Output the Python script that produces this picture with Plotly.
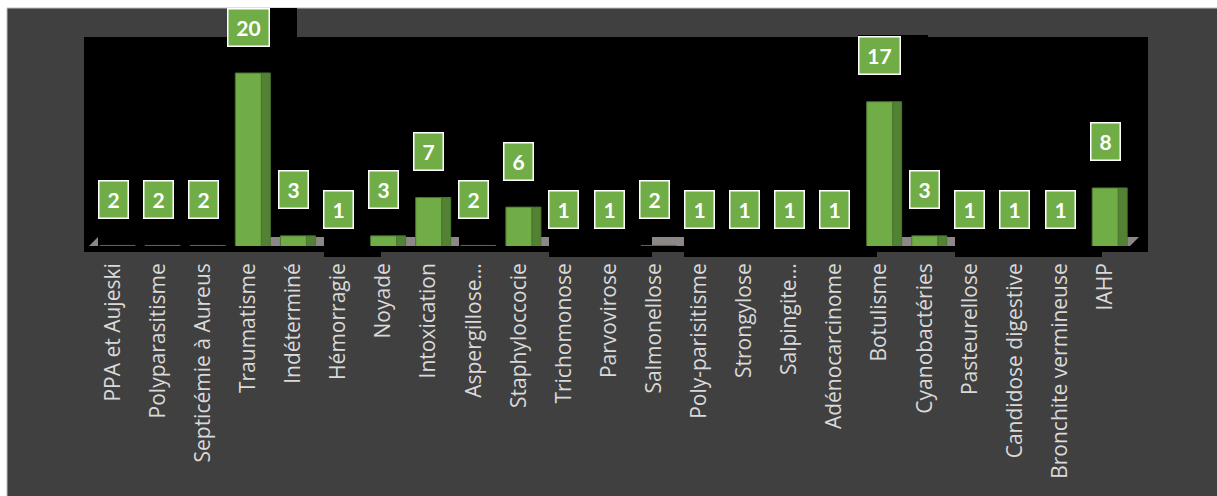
import plotly.graph_objects as go

# Causes of death and number of cases
categories = [
    "PPA et Aujeski", "Polyparasitisme", "Septicémie à Aureus", "Traumatisme",
    "Indéterminé", "Hémorragie", "Noyade", "Intoxication", "Aspergillose…",
    "Staphyloccocie", "Trichomonose", "Parvovirose", "Salmonellose",
    "Poly-parisitisme", "Strongylose", "Salpingite…", "Adénocarcinome",
    "Botulisme", "Cyanobactéries", "Pasteurellose", "Candidose digestive",
    "Bronchite vermineuse", "IAHP",
]
cases = [2, 2, 2, 20, 3, 1, 3, 7, 2, 6, 1, 1, 2, 1, 1, 1, 1, 17, 3, 1, 1, 1, 8]

positions = list(range(len(categories)))

# Figure geometry (pixels)
W, H = 1217, 496
L, R, T, B = 84, 69, 37, 250
PW, PH = W - L - R, H - T - B

Y_RANGE = [1.94, 23.76]
X_RANGE = [-0.643, 22.95]
LABEL_OFFSET = 4.8  # value-label boxes sit above the column tops

GREEN = "#70AD47"
GREEN_SIDE = "#548235"
GREEN_EDGE = "#4A7530"
BG = "#404040"


def px(x):
    return (x - L) / PW


def py(y):
    return (T + PH - y) / PH


fig = go.Figure()

# darker right-hand side of each 3D column
fig.add_trace(go.Bar(
    x=positions, y=cases, width=0.2, offset=0.288,
    marker=dict(color=GREEN_SIDE, line=dict(color=GREEN_EDGE, width=1)),
    hoverinfo="skip", showlegend=False,
))
# front face of each column
fig.add_trace(go.Bar(
    x=positions, y=cases, width=0.576, offset=-0.288,
    marker=dict(color=GREEN, line=dict(color=GREEN_EDGE, width=1)),
    showlegend=False,
))

shapes = []
# outer chart frame
shapes.append(dict(type="rect", xref="paper", yref="paper", layer="below",
                   x0=px(7), x1=px(W + 5), y0=py(H + 5), y1=py(8),
                   fillcolor=BG, line=dict(color="#bfbfbf", width=1)))
# black plotting block, with its ragged extensions
black_blocks = [
    (84, 1148, 37, 252),
    (229, 297, 8, 37),
    (858, 928, 35, 37),
    (324, 381, 246, 257),
    (549, 652, 246, 257),
    (684, 877, 246, 257),
    (955, 1102, 246, 257),
]
for x0, x1, y0, y1 in black_blocks:
    shapes.append(dict(type="rect", xref="paper", yref="paper", layer="below",
                       x0=px(x0), x1=px(x1), y0=py(y1), y1=py(y0),
                       fillcolor="black", line=dict(width=0)))
# grey 3D floor
floor = "M {a},{b} L {c},{b} L {d},{e} L {f},{e} Z".format(
    a=px(89), b=py(246), c=px(1130), d=px(1139), e=py(237), f=px(98))
shapes.append(dict(type="path", xref="paper", yref="paper", layer="below",
                   path=floor, fillcolor="#8d8787", line=dict(width=0)))
# black patches over parts of the floor
for x0, x1, y0, y1 in [(98, 246, 179, 246), (324, 381, 236, 246),
                       (459, 516, 219, 246), (549, 652, 228, 246),
                       (684, 877, 228, 246), (955, 1102, 228, 246)]:
    shapes.append(dict(type="rect", xref="paper", yref="paper", layer="below",
                       x0=px(x0), x1=px(x1), y0=py(y1), y1=py(y0),
                       fillcolor="black", line=dict(width=0)))

# value labels in green boxes, hung above each column top by an invisible arrow
annotations = []
for xi, v in zip(positions, cases):
    txt = str(v)
    annotations.append(dict(
        x=xi, y=v, xref="x", yref="y",
        ax=xi, ay=v + LABEL_OFFSET, axref="x", ayref="y",
        showarrow=True, arrowcolor="rgba(0,0,0,0)", arrowwidth=0.1,
        text="<b>%s</b>" % txt, xanchor="center", yanchor="middle",
        font=dict(family="Lato, Carlito, sans-serif", size=21, color="white"),
        bgcolor=GREEN, bordercolor="white", borderwidth=1.5, borderpad=1,
        width=26 if len(txt) == 1 else 38, height=34,
    ))

fig.update_layout(
    width=W, height=H,
    margin=dict(l=L, r=R, t=T, b=B, pad=0),
    paper_bgcolor="white",
    plot_bgcolor="black",
    barmode="overlay",
    shapes=shapes,
    annotations=annotations,
    xaxis=dict(
        range=X_RANGE, tickmode="array", tickvals=positions, ticktext=categories,
        tickangle=-90, tickfont=dict(family="Open Sans", size=21, color="#d9d9d9"),
        showgrid=False, zeroline=False, showline=False, ticks="",
        ticklabelstandoff=12, fixedrange=True,
    ),
    yaxis=dict(range=Y_RANGE, visible=False, showgrid=False, zeroline=False,
               fixedrange=True),
)

fig.write_html("out.html")
